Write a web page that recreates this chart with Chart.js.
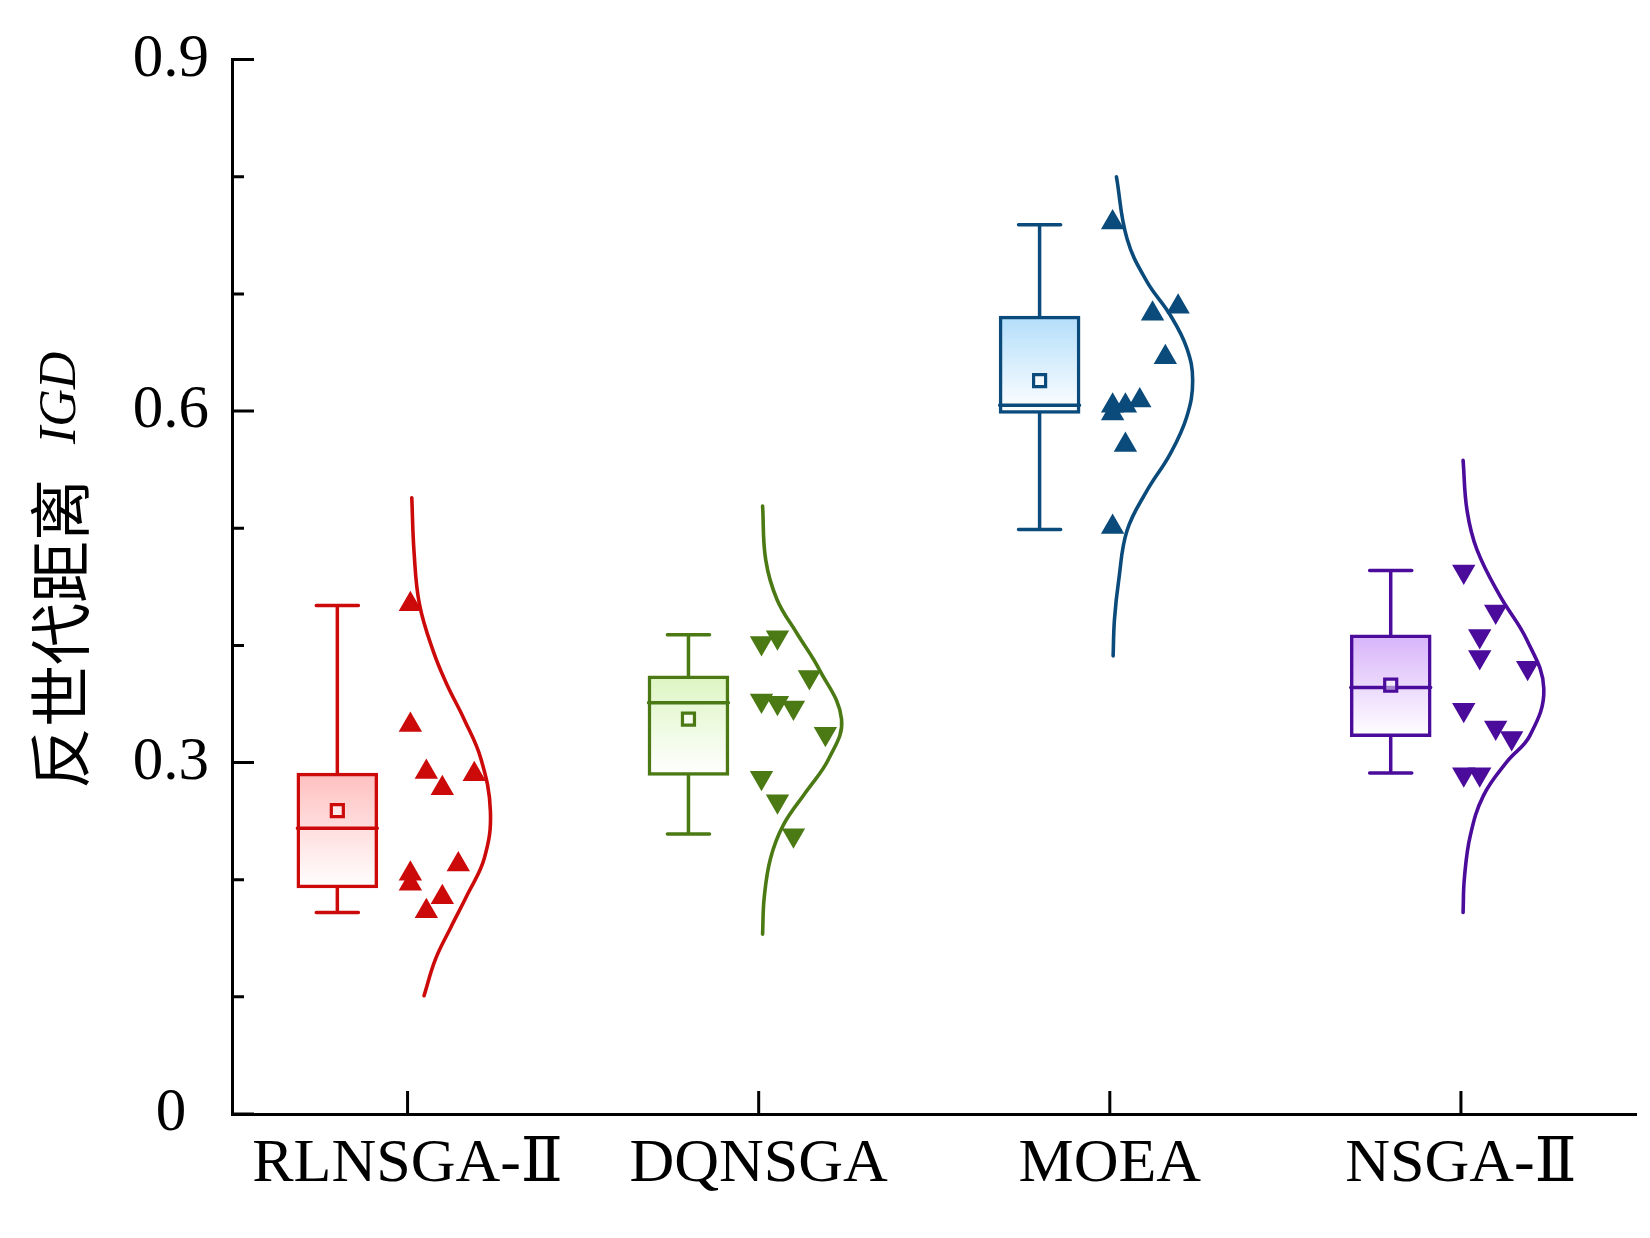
<!DOCTYPE html>
<html>
<head>
<meta charset="utf-8">
<script src="https://cdn.jsdelivr.net/npm/chart.js@4.4.0/dist/chart.umd.min.js"></script>
<style>
body { margin: 0; background: #fff; }
</style>
</head>
<body>
<canvas id="Chart" width="1650" height="1238"></canvas>
<script>
//カテゴリ
const categories = ['RLNSGA-Ⅱ', 'DQNSGA', 'MOEA', 'NSGA-Ⅱ'];

//Y軸の目盛り
const yTicks = [0, 0.3, 0.6, 0.9];
const yMinorTicks = [0.1, 0.2, 0.4, 0.5, 0.7, 0.8];

//箱ひげ図の統計値
const whiskerLow = [0.172, 0.239, 0.499, 0.291];
const q1 = [0.193, 0.289, 0.598, 0.322];
const median = [0.244, 0.351, 0.605, 0.364];
const q3 = [0.291, 0.374, 0.681, 0.409];
const whiskerHigh = [0.434, 0.409, 0.759, 0.464];
const mean = [0.259, 0.337, 0.626, 0.366];

//各アルゴリズムのデータ点 (IGD) と並び位置
const redPoints = [0.435, 0.332, 0.292, 0.278, 0.290, 0.213, 0.205, 0.1965, 0.185, 0.173];
const redSlots = [0, 0, 1, 2, 4, 3, 0, 0, 2, 1];
const greenPoints = [0.402, 0.407, 0.373, 0.353, 0.351, 0.347, 0.3245, 0.287, 0.267, 0.238];
const greenSlots = [0, 1, 3, 0, 1, 2, 4, 0, 1, 2];
const bluePoints = [0.761, 0.683, 0.689, 0.646, 0.6045, 0.6045, 0.609, 0.598, 0.571, 0.501];
const blueSlots = [0, 2.5, 4.1, 3.3, 0, 0.8, 1.7, 0, 0.8, 0];
const purplePoints = [0.463, 0.429, 0.408, 0.390, 0.381, 0.345, 0.330, 0.321, 0.290, 0.290];
const purpleSlots = [0, 2, 1, 1, 4, 0, 2, 3, 0, 1];

//分布曲線 (IGD値, 相対密度)
const redCurveY = [0.526, 0.479, 0.435, 0.394, 0.366, 0.337, 0.303, 0.258, 0.2185, 0.1875, 0.159, 0.132, 0.101];
const redCurveD = [0.051, 0.079, 0.144, 0.315, 0.479, 0.682, 0.886, 1, 0.927, 0.724, 0.520, 0.336, 0.199];
const greenCurveY = [0.519, 0.473, 0.439, 0.411, 0.380, 0.337, 0.303, 0.275, 0.247, 0.2185, 0.185, 0.1535];
const greenCurveD = [0.047, 0.085, 0.222, 0.455, 0.727, 1, 0.844, 0.572, 0.300, 0.144, 0.067, 0.047];
const blueCurveY = [0.800, 0.747, 0.7105, 0.682, 0.654, 0.626, 0.595, 0.5635, 0.532, 0.498, 0.456, 0.422, 0.391];
const blueCurveD = [0.080, 0.208, 0.448, 0.729, 0.928, 1, 0.928, 0.729, 0.448, 0.208, 0.108, 0.056, 0.040];
const purpleCurveY = [0.558, 0.515, 0.4815, 0.442, 0.405, 0.363, 0.323, 0.3005, 0.272, 0.238, 0.2016, 0.172];
const purpleCurveD = [0.026, 0.074, 0.194, 0.473, 0.793, 1, 0.832, 0.553, 0.273, 0.114, 0.042, 0.026];

//色
const colors = ['#CC0A0A', '#4B7A14', '#0B4B7B', '#4B0C9C'];
const boxTopColors = ['#FFBFBF', '#DDF5C2', '#B3DEFA', '#D8B3FA'];

const pointSets = [redPoints, greenPoints, bluePoints, purplePoints];
const slotSets = [redSlots, greenSlots, blueSlots, purpleSlots];
const curveYs = [redCurveY, greenCurveY, blueCurveY, purpleCurveY];
const curveDs = [redCurveD, greenCurveD, blueCurveD, purpleCurveD];
const markerRot = [0, 180, 0, 180];

//配置 (カテゴリ単位)
const boxOffset = -0.2;
const boxWidth = 0.2275;
const capHalf = 0.06;
const slotBase = 0.008;
const slotStep = 0.0455;
const curveScale = 0.236;

const serif = "'Liberation Serif', 'DejaVu Serif', serif";

//箱のグラデーション
function boxFill(ctx) {
	const chart = ctx.chart;
	const i = ctx.dataIndex;
	const y = chart.scales.y;
	if (!y || i === undefined) return boxTopColors[0];
	const top = y.getPixelForValue(q3[i]);
	const bottom = y.getPixelForValue(q1[i]);
	if (!isFinite(top) || !isFinite(bottom)) return boxTopColors[i];
	const g = chart.ctx.createLinearGradient(0, top, 0, bottom);
	g.addColorStop(0, boxTopColors[i]);
	g.addColorStop(1, '#ffffff');
	return g;
}

const datasets = [];

//箱
datasets.push({
	type: 'bar',
	data: categories.map((c, i) => ({ x: i + 1 + boxOffset, y: [q1[i], q3[i]] })),
	barThickness: 81,
	backgroundColor: boxFill,
	borderColor: colors,
	borderWidth: 3.5,
	borderSkipped: false,
	order: 10,
});

//ひげ・中央値
categories.forEach((c, i) => {
	const cx = i + 1 + boxOffset;
	datasets.push({
		type: 'line',
		data: [
			{ x: cx, y: whiskerLow[i] }, { x: cx, y: q1[i] }, { x: cx, y: null },
			{ x: cx, y: q3[i] }, { x: cx, y: whiskerHigh[i] }, { x: cx, y: null },
			{ x: cx - capHalf, y: whiskerLow[i] }, { x: cx + capHalf, y: whiskerLow[i] }, { x: cx, y: null },
			{ x: cx - capHalf, y: whiskerHigh[i] }, { x: cx + capHalf, y: whiskerHigh[i] }, { x: cx, y: null },
			{ x: cx - boxWidth / 2, y: median[i] }, { x: cx + boxWidth / 2, y: median[i] },
		],
		borderColor: colors[i],
		borderWidth: 3.5,
		borderCapStyle: 'round',
		pointRadius: 0,
		spanGaps: false,
		tension: 0,
		fill: false,
		order: 5,
	});
});

//平均値
datasets.push({
	type: 'scatter',
	data: mean.map((m, i) => ({ x: i + 1 + boxOffset, y: m })),
	pointStyle: 'rect',
	pointRadius: 8.5,
	borderWidth: 3.2,
	borderColor: colors,
	backgroundColor: 'rgba(255,255,255,0.5)',
	order: 4,
});

//分布曲線
curveYs.forEach((ys, i) => {
	datasets.push({
		type: 'line',
		data: ys.map((v, k) => ({ x: i + 1 + curveDs[i][k] * curveScale, y: v })),
		borderColor: colors[i],
		borderWidth: 3.6,
		borderCapStyle: 'round',
		pointRadius: 0,
		tension: 0.4,
		fill: false,
		order: 3,
	});
});

//データ点
pointSets.forEach((pts, i) => {
	datasets.push({
		type: 'scatter',
		data: pts.map((v, k) => ({ x: i + 1 + slotBase + slotSets[i][k] * slotStep, y: v })),
		pointStyle: 'triangle',
		pointRotation: markerRot[i],
		pointRadius: 11.5,
		borderWidth: 2,
		backgroundColor: colors[i],
		borderColor: colors[i],
		order: 2,
	});
});

//内向きの目盛り線
const innerTicks = {
	id: 'innerTicks',
	afterDraw(chart) {
		const { ctx, scales: { x, y }, chartArea } = chart;
		ctx.save();
		ctx.strokeStyle = '#000';
		ctx.lineWidth = 3;
		ctx.beginPath();
		yTicks.forEach(v => {
			const py = y.getPixelForValue(v);
			ctx.moveTo(chartArea.left, py);
			ctx.lineTo(chartArea.left + 22, py);
		});
		yMinorTicks.forEach(v => {
			const py = y.getPixelForValue(v);
			ctx.moveTo(chartArea.left, py);
			ctx.lineTo(chartArea.left + 12, py);
		});
		categories.forEach((c, i) => {
			const px = x.getPixelForValue(i + 1);
			ctx.moveTo(px, chartArea.bottom);
			ctx.lineTo(px, chartArea.bottom - 23);
		});
		ctx.stroke();
		ctx.restore();
	}
};

//Y軸タイトル
const yTitle = {
	id: 'yTitle',
	afterDraw(chart) {
		const ctx = chart.ctx;
		ctx.save();
		ctx.translate(60, 789);
		ctx.rotate(-Math.PI / 2);
		ctx.fillStyle = '#000';
		ctx.textAlign = 'left';
		ctx.textBaseline = 'middle';
		ctx.font = "62px 'Noto Sans CJK SC'";
		ctx.fillText('反世代距离', 0, 0);
		ctx.textBaseline = 'alphabetic';
		ctx.font = "italic 52px 'Liberation Serif'";
		ctx.fillText('IGD', 345, 15);
		ctx.restore();
	}
};

let lineCtx = document.getElementById('Chart');
let config = {
	type: 'scatter',
	data: { datasets: datasets },
	options: {
		responsive: false,
		animation: false,
		devicePixelRatio: 1,
		events: [],
		layout: { padding: { top: 53, right: 3, left: 0, bottom: 0 } },
		plugins: { legend: { display: false }, tooltip: { enabled: false } },
		scales: {
			x: {
				type: 'linear',
				min: 0.5,
				max: 4.5,
				offset: false,
				afterBuildTicks: s => { s.ticks = categories.map((c, i) => ({ value: i + 1 })); },
				afterFit: s => { s.height = 124; },
				ticks: {
					callback: v => categories[v - 1],
					font: { family: serif, size: 62 },
					color: '#000',
					padding: 14,
					maxRotation: 0,
					autoSkip: false,
				},
				grid: { display: false, drawTicks: false },
				border: { display: true, color: '#000', width: 3 },
			},
			y: {
				min: 0,
				max: 0.9,
				afterBuildTicks: s => { s.ticks = yTicks.map(v => ({ value: v })); },
				afterFit: s => { s.width = 232; },
				ticks: {
					callback: v => (v === 0 ? '0' : v.toFixed(1)),
					font: { family: serif, size: 61 },
					color: '#000',
					padding: 23,
					crossAlign: 'center',
				},
				grid: { display: false, drawTicks: false },
				border: { display: true, color: '#000', width: 3 },
			}
		},
	},
	plugins: [innerTicks, yTitle],
};
let chart = new Chart(lineCtx, config);
</script>
</body>
</html>
